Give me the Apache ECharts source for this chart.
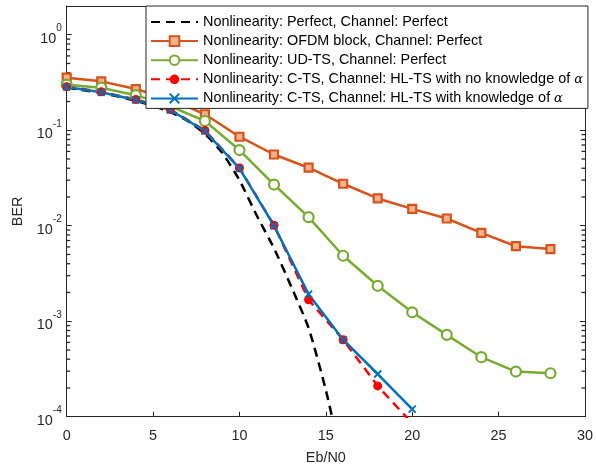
<!DOCTYPE html>
<html>
<head>
<meta charset="utf-8">
<script src="https://cdn.jsdelivr.net/npm/echarts@6/dist/echarts.min.js"></script>
<style>
  html, body { margin: 0; padding: 0; background: #ffffff; }
  #chart { width: 596px; height: 470px; }
</style>
</head>
<body>
<div id="chart"></div>
<script>
// Eb/N0 grids (dB)
const ebn0Ideal = [0, 1, 2, 3, 4, 5, 6, 7, 8, 9, 10, 11, 12, 13, 14, 15, 16];
const ebn0Sim = [0, 2, 4, 6, 8, 10, 12, 14, 16, 18, 20, 22, 24, 26, 28];
const ebn0Cts = [0, 2, 4, 6, 8, 10, 12, 14, 16, 18, 20];

// BER curves
const berIdeal = [0.28, 0.262, 0.245, 0.225, 0.203, 0.18, 0.155, 0.125, 0.092, 0.058, 0.030, 0.0128, 0.0058, 0.0023, 0.00085, 0.00019, 0.00003];
const berOfdmBlock = [0.355, 0.325, 0.27, 0.21, 0.147, 0.0855, 0.0557, 0.0405, 0.0275, 0.0193, 0.0150, 0.0119, 0.0084, 0.0061, 0.0057];
const berUdTs = [0.30, 0.279, 0.233, 0.178, 0.125, 0.062, 0.027, 0.0123, 0.00485, 0.00235, 0.00124, 0.00072, 0.00042, 0.000297, 0.000285];
const berCtsNoAlpha = [0.286, 0.253, 0.210, 0.165, 0.0995, 0.0403, 0.0101, 0.00168, 0.00064, 0.00021, 0.000085];
const berCtsAlpha = [0.284, 0.250, 0.207, 0.163, 0.098, 0.0398, 0.0100, 0.00192, 0.00064, 0.00028, 0.00012];

const seriesNames = [
  'Nonlinearity: Perfect, Channel: Perfect',
  'Nonlinearity: OFDM block, Channel: Perfect',
  'Nonlinearity: UD-TS, Channel: Perfect',
  'Nonlinearity: C-TS, Channel: HL-TS with no knowledge of α',
  'Nonlinearity: C-TS, Channel: HL-TS with knowledge of α'
];

// Axis ranges
const xMin = 0, xMax = 30, xStep = 5;
const yMin = 1e-4, yMax = 2;

// Log-axis minor tick positions (2..9 within each decade)
const minorTickValues = [];
for (let e = -4; e <= 0; e++) {
  for (let m = 2; m <= 9; m++) {
    const v = m * Math.pow(10, e);
    if (v < yMax) minorTickValues.push(v);
  }
}

const pairs = (xs, ys) => xs.map((x, i) => [x, ys[i]]);

const FONT = 'Liberation Sans';
const FS = 14.4;
const AXIS_COLOR = '#262626';
const C_BLACK = '#000000';
const C_ORANGE = '#D95319';
const C_GREEN = '#77AC30';
const C_RED = '#FF0000';
const C_BLUE = '#0072BD';

const chart = echarts.init(document.getElementById('chart'), null, { renderer: 'canvas' });

function powLabel(v) {
  const e = Math.log10(v);
  const r = Math.round(e);
  if (Math.abs(e - r) > 1e-6) return '';
  return '{b|10}{e|' + r + '}';
}

const commonY = {
  type: 'log',
  logBase: 10,
  min: yMin,
  max: yMax,
  splitLine: { show: false },
  minorTick: { show: false },
  minorSplitLine: { show: false }
};

// Short inward marks at the minor log values, placed on the left and right frame edges
function minorTickSeries(xEdge, dir) {
  return {
    type: 'scatter',
    silent: true,
    clip: false,
    z: 3,
    symbol: 'rect',
    symbolSize: [3.5, 1.3],
    symbolOffset: [dir * 1.75, 0],
    itemStyle: { color: AXIS_COLOR, opacity: 1 },
    emphasis: { disabled: true },
    data: minorTickValues.map(v => [xEdge, v])
  };
}

const option = {
  animation: false,
  backgroundColor: '#ffffff',
  textStyle: { fontFamily: FONT },
  grid: { left: 66.7, right: 9.3, top: 6, bottom: 53.3, containLabel: false },
  legend: {
    data: [
      { name: seriesNames[0], itemStyle: { opacity: 0 } },
      { name: seriesNames[1] },
      { name: seriesNames[2] },
      { name: seriesNames[3] },
      { name: seriesNames[4] }
    ],
    orient: 'vertical',
    left: 146,
    top: 6,
    padding: [9, 5, 3, 4],
    itemWidth: 47,
    itemHeight: 12,
    itemGap: 5.1,
    backgroundColor: '#ffffff',
    borderColor: AXIS_COLOR,
    borderWidth: 1,
    borderRadius: 0,
    align: 'left',
    selectedMode: false,
    textStyle: {
      fontFamily: FONT,
      fontSize: FS,
      color: '#000000',
      rich: {
        a: { fontFamily: 'DejaVu Serif', fontStyle: 'italic', fontSize: 13, color: '#000000' }
      }
    },
    formatter: (name) => name.replace('α', '{a|α}')
  },
  xAxis: [
    {
      type: 'value',
      position: 'bottom',
      min: xMin, max: xMax, interval: xStep,
      name: 'Eb/N0',
      nameLocation: 'middle',
      nameGap: 34,
      nameTextStyle: { fontFamily: FONT, fontSize: FS, color: AXIS_COLOR },
      axisLine: { show: true, onZero: false, lineStyle: { color: AXIS_COLOR, width: 1 } },
      axisTick: { show: true, inside: true, length: 5, lineStyle: { color: AXIS_COLOR, width: 1 } },
      axisLabel: { fontFamily: FONT, fontSize: FS, color: AXIS_COLOR, margin: 12 },
      splitLine: { show: false }
    },
    {
      type: 'value',
      position: 'top',
      min: xMin, max: xMax, interval: xStep,
      axisLine: { show: true, onZero: false, lineStyle: { color: AXIS_COLOR, width: 1 } },
      axisTick: { show: true, inside: true, length: 5, lineStyle: { color: AXIS_COLOR, width: 1 } },
      axisLabel: { show: false },
      splitLine: { show: false }
    }
  ],
  yAxis: [
    Object.assign({}, commonY, {
      position: 'left',
      name: 'BER',
      nameLocation: 'middle',
      nameGap: 42,
      nameTextStyle: { fontFamily: FONT, fontSize: FS, color: AXIS_COLOR },
      axisLine: { show: true, onZero: false, lineStyle: { color: AXIS_COLOR, width: 1 } },
      axisTick: { show: true, inside: true, length: 5, lineStyle: { color: AXIS_COLOR, width: 1 } },
      axisLabel: {
        margin: 5,
        formatter: powLabel,
        rich: {
          b: { fontFamily: FONT, fontSize: FS, color: AXIS_COLOR, verticalAlign: 'bottom', lineHeight: 22 },
          e: { fontFamily: FONT, fontSize: 10, color: AXIS_COLOR, verticalAlign: 'top', lineHeight: 11 }
        }
      }
    }),
    Object.assign({}, commonY, {
      position: 'right',
      axisLine: { show: true, onZero: false, lineStyle: { color: AXIS_COLOR, width: 1 } },
      axisTick: { show: true, inside: true, length: 5, lineStyle: { color: AXIS_COLOR, width: 1 } },
      axisLabel: { show: false }
    })
  ],
  series: [
    minorTickSeries(xMin, 1),
    minorTickSeries(xMax, -1),
    {
      name: seriesNames[0],
      type: 'line',
      data: pairs(ebn0Ideal, berIdeal),
      showSymbol: false,
      symbol: 'none',
      smooth: 0.2,
      clip: true,
      lineStyle: { color: C_BLACK, width: 2.5, type: [9, 6] },
      itemStyle: { color: C_BLACK }
    },
    {
      name: seriesNames[1],
      type: 'line',
      data: pairs(ebn0Sim, berOfdmBlock),
      symbol: 'rect',
      symbolSize: 8,
      clip: true,
      lineStyle: { color: C_ORANGE, width: 2.5 },
      itemStyle: { color: '#F2B48F', borderColor: C_ORANGE, borderWidth: 2.2 }
    },
    {
      name: seriesNames[2],
      type: 'line',
      data: pairs(ebn0Sim, berUdTs),
      symbol: 'circle',
      symbolSize: 10,
      clip: true,
      lineStyle: { color: C_GREEN, width: 2.5 },
      itemStyle: { color: '#ffffff', borderColor: C_GREEN, borderWidth: 2.2 }
    },
    {
      name: seriesNames[3],
      type: 'line',
      data: pairs(ebn0Cts, berCtsNoAlpha),
      symbol: 'circle',
      symbolSize: 9,
      clip: true,
      lineStyle: { color: C_RED, width: 2.5, type: [9, 6] },
      itemStyle: { color: C_RED, borderColor: C_RED, borderWidth: 0 }
    },
    {
      name: seriesNames[4],
      type: 'line',
      data: pairs(ebn0Cts, berCtsAlpha),
      symbol: 'path://M0,0L10,10M0,10L10,0',
      symbolSize: 7,
      clip: true,
      lineStyle: { color: C_BLUE, width: 2.5 },
      itemStyle: { color: C_BLUE, borderColor: C_BLUE, borderWidth: 2 }
    }
  ]
};

chart.setOption(option);
</script>
</body>
</html>
